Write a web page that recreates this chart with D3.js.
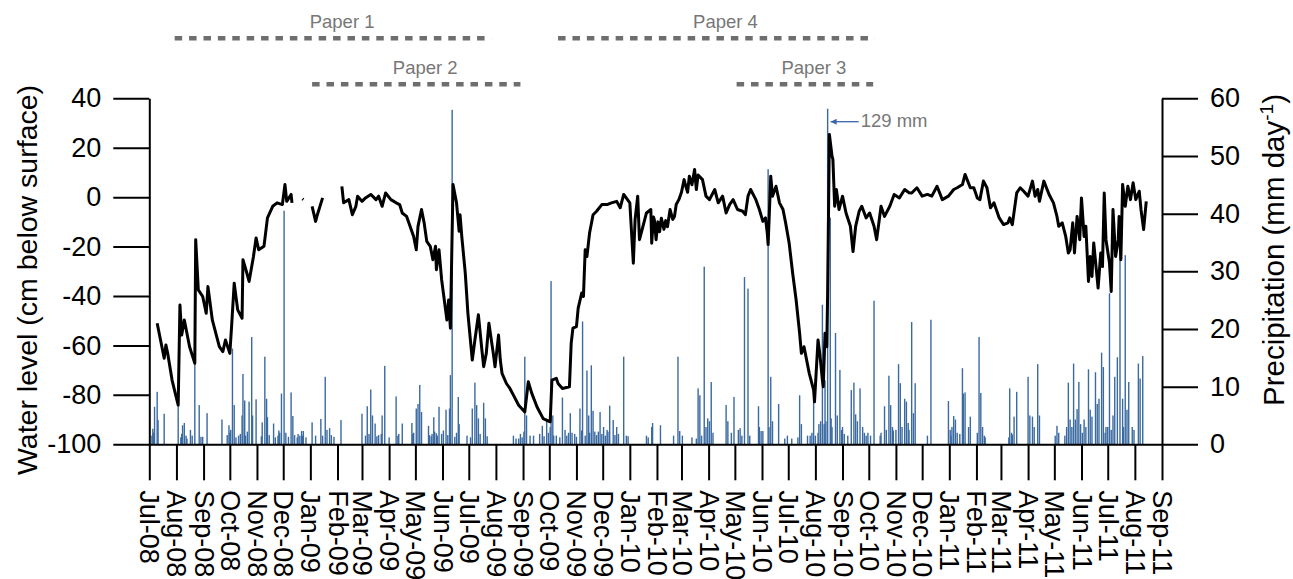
<!DOCTYPE html>
<html>
<head>
<meta charset="utf-8">
<script src="https://cdn.jsdelivr.net/npm/d3@7"></script>
<style>
  body { margin: 0; background: #fff; }
  text { font-family: "Liberation Sans", Arial, sans-serif; }
</style>
</head>
<body>
<svg id="chart" width="1293" height="579"></svg>
<script>
// time span of the axis
const startDate = "2008-07-01";
const endDate = "2011-09-01";

// water level, days after startDate (null = gap in the record)
const levelDay = [9,17,19,21,26,33,35,37,40,43,46,52,53,56,61,65,67,72,80,84,87,92,94,97,101,106,107,112,114,119,122,125,131,135,141,146,152,155,157,162,163,
  null,175,176,null,186,190,192,198,null,
  220,222,228,232,236,238,243,247,253,259,262,266,270,276,282,286,289,294,302,305,307,311,314,317,321,324,327,328,331,334,338,340,342,344,347,351,354,355,357,361,364,369,372,376,380,382,385,388,393,395,399,401,403,408,412,416,422,429,433,437,443,450,458,460,465,467,472,480,482,484,488,490,494,496,498,500,503,507,511,517,523,528,534,538,542,549,553,555,558,560,564,568,573,574,576,577,579,581,583,585,588,590,592,595,598,600,602,605,608,611,613,615,617,620,623,625,627,632,636,640,646,650,655,659,663,667,672,678,681,684,687,693,697,701,704,706,707,710,712,716,720,724,727,731,735,739,743,745,748,754,759,760,764,766,769,770,772,774,775,777,780,781,783,785,788,792,796,801,804,807,811,814,819,823,828,831,836,840,846,851,857,863,868,871,877,883,889,894,900,906,913,919,923,929,932,938,942,946,949,953,957,961,965,971,976,981,983,986,991,995,999,1004,1009,1012,1015,1017,1022,1028,1033,1037,1039,1043,1047,1050,1052,1055,1057,1060,1063,1065,1068,1070,1073,1075,1077,1079,1082,1084,1087,1089,1091,1093,1097,1099,1101,1104,1107,1108,1110,1112,1115,1118,1121,1124,1127,1131,1133,1136,1139];
const levelCm = [-51,-65.2,-59.8,-63.2,-74,-84.2,-43.6,-55.8,-49.7,-55.1,-60.5,-67.2,-17.2,-37.5,-40.2,-47,-36.2,-49.7,-60.5,-62.5,-57.8,-63.2,-52.4,-34.8,-45.6,-49,-25.3,-31.4,-34.1,-24,-16.5,-21.3,-19.9,-8.4,-3.7,-2.3,-3,5.1,-1.7,1.1,-2.3,
  null,-0.7,-1,null,-3.7,-9.8,-7.1,-0.3,null,
  4.4,-2.3,-1,-7.1,-3.7,0.4,-1.7,-0.3,1.1,-1,0.4,-3.7,1.7,-1,-2.3,-3,-6.4,-7.8,-15.9,-21.3,-11.8,-5,-10.4,-17.9,-19.9,-25.3,-19.9,-29.4,-21.3,-33.4,-44.3,-49.7,-41.6,-53,5.1,-2.3,-13.8,-7.1,-15.9,-30.7,-47,-65.9,-57.8,-47.6,-61.9,-68.6,-63.2,-51,-63.2,-68.6,-55.8,-65.9,-71.3,-75.4,-77.4,-80.1,-84.2,-86.9,-74.7,-79.4,-84.9,-89.6,-90.9,-74,-73.3,-75.4,-77.4,-76.7,-59.1,-53,-52.4,-44.9,-38.8,-40.2,-21.3,-24,-14.5,-7.1,-5.7,-3,-3,-2.3,-1.7,-4.3,1.1,-2.3,-26.7,-9.1,0.4,-17.2,-11.8,-6.4,-5,-18.6,-8,-9.1,-17.2,-10,-14,-8.5,-13,-9.5,-12,-5,-9,-7.8,-3,-1,2,7.1,4.4,2,8.5,5,11.2,3.1,9,7.1,0.4,-1,3.1,-2.3,0.4,-6.4,-3,-1,-5,-5.7,-7.1,0.4,3.1,-1,-5,-9.8,-8.4,-14.5,-19.2,8.5,0.4,4.4,-2.3,-5,-10.4,-18.5,-30.7,-41.6,-55.1,-63.2,-60.5,-71.3,-78.1,-82.8,-57.8,-63.2,-74,-76.7,-55.1,-60.5,-38.8,25.4,16.6,15.3,-3.7,3.1,-5,0.4,-6.4,-11.8,-22,-11.8,-5.7,-3.7,-8.4,-6.4,-11.8,-17.2,-3.7,-7.8,-3.7,1.1,-0.3,3.1,1.8,1.7,3.8,0.4,1.1,0.4,4.4,-1,0.4,3.1,3.8,5.1,9.2,3.8,3.8,-0.3,-1,6.5,3.8,-4.3,-2.3,-8.4,-11.1,-10.4,-8.4,-11.1,1.7,3.8,2.4,0.4,6.5,0.4,3.1,-1.7,6.5,1.1,-2.3,-7.8,-11.8,-10.4,-15.9,-22.6,-21.3,-10.4,-22.6,-7.8,-17.2,-0.3,-15.9,-11.8,-34.1,-24,-32.1,-18.5,-29.4,-36.8,-22.6,-28.1,1.7,-17.2,-26.7,-38.2,-5,-24,-17.2,-7.8,-25.3,5.1,-3.7,4.4,-1,5.8,-1,2.4,-5,-13.1,-1.7,3.1];

// daily precipitation, days after startDate and mm (wet days, then light days)
const rainDay = [4,6,9,10,17,33,38,40,42,47,52,57,59,66,83,91,93,95,97,102,106,107,109,114,117,118,122,129,132,134,135,142,148,151,154,156,162,164,172,174,176,186,190,196,201,203,206,219,243,249,253,255,258,266,269,282,289,300,301,305,307,309,311,319,323,325,328,331,339,343,344,346,353,354,369,372,374,376,382,384,416,422,424,428,429,431,439,449,454,456,458,459,461,462,472,481,483,492,495,498,500,502,505,507,509,513,515,519,523,526,530,534,542,545,575,584,604,606,609,627,629,631,634,636,638,642,644,659,661,668,675,680,684,686,696,699,701,707,708,710,712,719,729,734,743,745,755,759,761,764,765,769,771,772,773,775,778,780,784,786,789,791,794,802,805,807,812,817,819,828,835,840,842,845,847,850,856,858,860,863,865,867,871,873,875,889,893,913,916,919,921,926,929,930,932,938,946,948,950,952,982,983,986,988,991,1004,1006,1009,1015,1017,1037,1046,1050,1052,1056,1058,1060,1062,1068,1073,1075,1077,1081,1083,1085,1088,1090,1093,1097,1101,1103,1106,1109,1112,1115,1117,1119,1123,1125,1130,1132,1135,
  3,5,36,37,43,49,61,89,92,99,104,110,112,128,137,144,147,149,159,166,169,170,175,179,198,208,211,247,251,260,262,265,274,284,285,
  302,320,322,326,329,334,336,341,349,351,363,367,378,386,419,426,435,446,451,465,469,475,477,479,486,488,494,503,511,517,521,524,532,536,547,568,570,
  574,599,620,625,640,665,673,677,697,726,741,752,757,767,779,792,798,809,815,821,824,836,849,853,
  868,915,917,923,936,954,955,985,1011,1035,1039,1048,1054,1064,1066,1070,1092,1095,1099,1113];
const rainMm = [2.7,6.5,9.1,4.2,5.3,6.5,3.3,3.7,1.5,2.5,14,6.8,1.3,5.4,4.3,3.3,2.5,16.6,6.8,1.5,5,12.2,7.6,7.4,18.6,5,7.8,3.8,15.2,7.9,4.7,3.6,2.4,8.8,40.5,2,9,4.9,1.5,2.3,2.3,3.8,1.5,4.4,11.7,2.5,2.8,4.2,5.3,6.6,9.5,5,3.6,5,13.6,8.3,3.6,3.7,1.8,6.2,7,10.3,5.6,3.2,1.8,4.7,1.9,6.5,6,6.2,12,58,8.2,3.5,6.2,10.7,6.8,4.5,7.2,4.5,1.5,1,1.8,2.2,15.2,5,1.5,3.2,4.3,2,3,28.3,5,1.5,8.1,5.4,2,6.2,21.3,1.5,12.8,5,13.7,5.8,2.2,2.2,5.6,3,2.5,6.7,4.2,3,15.2,1.5,3.7,3.3,15.2,2.3,1.5,9.7,8.5,1.5,30.8,3,4.5,10.8,2,6.8,4,8.2,2.8,29,27,1.5,6.6,2.3,2.3,47.7,3,11.7,4,7,1.5,1,8.5,3.5,1.5,7.4,1.5,2,3.5,24.2,3.5,11.1,4,129,39.3,3,19.3,5,12.9,2.5,1.8,9.4,10.7,5.2,9.7,2,1.5,24.9,1.5,6.6,2.5,11.9,6.8,2.4,13.9,10.6,3,7.9,7.4,3.7,21.2,5.4,10.6,1.5,21.6,7.5,1.5,4.9,4.3,1.8,13.2,8.8,9,4.8,2,18.6,8.9,3,1.2,9.7,1.7,4.8,9.1,11.7,5,4.8,13.9,5,3.2,1.5,10.7,4.3,14,4.3,6.1,10.8,4.3,13,6,4.8,12.5,7,7.9,15.9,13.4,3,26.2,5,11.7,15.1,35,7.9,32.8,6,10.8,3,2.5,14,11.4,15.3,
  1.5,2,1.2,1.8,1,1.5,1.3,1.6,2,1.2,1.8,1.5,2.2,1.4,1.6,1.2,1.5,2,1.3,1.6,1.2,1.8,1.5,1.2,1.5,1.6,1.3,1.5,1.8,1.4,1.6,1.8,1.2,1.5,1.8,
  2,1.6,1.4,2.2,1.5,1.8,2.4,1.6,1.3,2,1.5,1.2,1.8,1.4,1,1.2,1.5,1.8,1.4,1.5,1.2,2.5,1.5,2,1.8,1.3,2.4,2,1.6,1.8,1.5,2.2,1.6,1.8,1.4,1.5,1.2,
  3,1.5,1.2,1,4,2,2.5,1.5,3,1,1.2,1.5,2,4,4.5,3,1.5,4,3,2,1.5,2,3,2.5,
  2.5,2.5,3,2,3,1.5,1.2,2,3,1.5,2,3,3,3.5,2,3,2,3,2.5,3];

const levelTicks = [-100, -80, -60, -40, -20, 0, 20, 40];
const rainTicks = [0, 10, 20, 30, 40, 50, 60];

// study periods shown above the plot
const paperName = ["Paper 1", "Paper 2", "Paper 4", "Paper 3"];
const paperStart = ["2008-07-30", "2009-01-03", "2009-10-11", "2010-05-03"];
const paperEnd = ["2009-07-27", "2009-08-29", "2010-10-08", "2010-10-06"];
const paperRow = [0, 1, 0, 1];

const parse = d3.utcParse("%Y-%m-%d");
const t0 = parse(startDate);
const dayDate = d => d3.utcDay.offset(t0, d);

const svg = d3.select("#chart");

const x = d3.scaleUtc()
  .domain([t0, parse(endDate)])
  .range([149.3, 1162]);
const yL = d3.scaleLinear().domain([-100, 40]).range([444.3, 98.3]);
const yR = d3.scaleLinear().domain([0, 60]).range([444.3, 98.3]);

svg.append("clipPath").attr("id", "clip")
  .append("rect")
  .attr("x", x.range()[0]).attr("width", x.range()[1] - x.range()[0])
  .attr("y", yR(58.2)).attr("height", yR(0) - yR(58.2));

//precipitation bars
const rain = rainDay.map((d, i) => ({date: dayDate(d), mm: rainMm[i]}));
svg.append("g")
  .attr("clip-path", "url(#clip)")
  .selectAll("rect")
  .data(rain)
  .enter().append("rect")
  .attr("x", d => x(d.date) - 0.7)
  .attr("width", 1.4)
  .attr("y", d => yR(d.mm))
  .attr("height", d => yR(0) - yR(d.mm))
  .attr("fill", "#3b6aa1");

//water level line
const level = levelDay.map((d, i) => ({date: d === null ? null : dayDate(d), cm: levelCm[i]}));
const line = d3.line()
  .defined(d => d.date !== null)
  .x(d => x(d.date))
  .y(d => yL(d.cm));
svg.append("path")
  .datum(level)
  .attr("d", line)
  .attr("fill", "none")
  .attr("stroke", "#000")
  .attr("stroke-width", 3)
  .attr("stroke-linejoin", "round");

// axes
function styleAxis(g) {
  g.selectAll("path, line").attr("stroke", "#000").attr("stroke-width", 2);
  g.selectAll("text").attr("fill", "#000").style("font-size", "27px")
    .style("font-family", '"Liberation Sans", Arial, sans-serif');
}

svg.append("g")
  .attr("transform", "translate(" + x.range()[0] + ",0)")
  .call(d3.axisLeft(yL).tickValues(levelTicks).tickFormat(d => String(d))
    .tickSize(36).tickSizeOuter(0).tickPadding(12))
  .call(styleAxis);

svg.append("g")
  .attr("transform", "translate(" + x.range()[1] + ",0)")
  .call(d3.axisRight(yR).tickValues(rainTicks).tickFormat(d => String(d))
    .tickSize(36).tickSizeOuter(0).tickPadding(12))
  .call(styleAxis);

const xAxis = svg.append("g")
  .attr("transform", "translate(0," + yL(-100) + ")")
  .call(d3.axisBottom(x).ticks(d3.utcMonth.every(1)).tickFormat(d3.utcFormat("%b-%y"))
    .tickSize(36).tickSizeOuter(0))
  .call(styleAxis);
xAxis.selectAll(".tick text")
  .attr("transform", "rotate(90)")
  .attr("text-anchor", "start")
  .attr("x", 46)
  .attr("y", 0)
  .attr("dy", "0.35em");

// axis titles
svg.append("text")
  .attr("transform", "translate(37,280) rotate(-90)")
  .attr("text-anchor", "middle")
  .style("font-size", "28.5px")
  .text("Water level (cm below surface)");

const rt = svg.append("text")
  .attr("transform", "translate(1284,250) rotate(-90)")
  .attr("text-anchor", "middle")
  .style("font-size", "29.5px");
rt.append("tspan").text("Precipitation (mm day");
rt.append("tspan").attr("dy", -11).style("font-size", "19px").text("-1");
rt.append("tspan").attr("dy", 11).text(")");

// paper periods
const rowY = [38.3, 84.3];
paperName.forEach((name, i) => {
  const x1 = x(parse(paperStart[i])), x2 = x(parse(paperEnd[i]));
  svg.append("line")
    .attr("x1", x1).attr("x2", x2)
    .attr("y1", rowY[paperRow[i]]).attr("y2", rowY[paperRow[i]])
    .attr("stroke", "#6e6e6e")
    .attr("stroke-width", 4.5)
    .attr("stroke-dasharray", "7.5,6.9");
  svg.append("text")
    .attr("x", (x1 + x2) / 2 + 9)
    .attr("y", rowY[paperRow[i]] - 10.5)
    .attr("text-anchor", "middle")
    .attr("fill", "#777")
    .style("font-size", "18.5px")
    .text(name);
});

// annotation for the clipped extreme day
const peak = rain.reduce((a, b) => (b.mm > a.mm ? b : a));
const px = x(peak.date);
svg.append("defs").append("marker")
  .attr("id", "arrow").attr("viewBox", "0 0 10 10")
  .attr("refX", 10).attr("refY", 5)
  .attr("markerUnits", "userSpaceOnUse")
  .attr("markerWidth", 9).attr("markerHeight", 6)
  .attr("orient", "auto")
  .append("path").attr("d", "M0,0L10,5L0,10Z").attr("fill", "#3a64b0");
svg.append("line")
  .attr("x1", px + 31).attr("x2", px + 3)
  .attr("y1", 121.7).attr("y2", 121.7)
  .attr("stroke", "#3a64b0").attr("stroke-width", 1.3)
  .attr("marker-end", "url(#arrow)");
svg.append("text")
  .attr("x", px + 33).attr("y", 127)
  .attr("fill", "#777")
  .style("font-size", "18.5px")
  .text(peak.mm + " mm");
</script>
</body>
</html>
